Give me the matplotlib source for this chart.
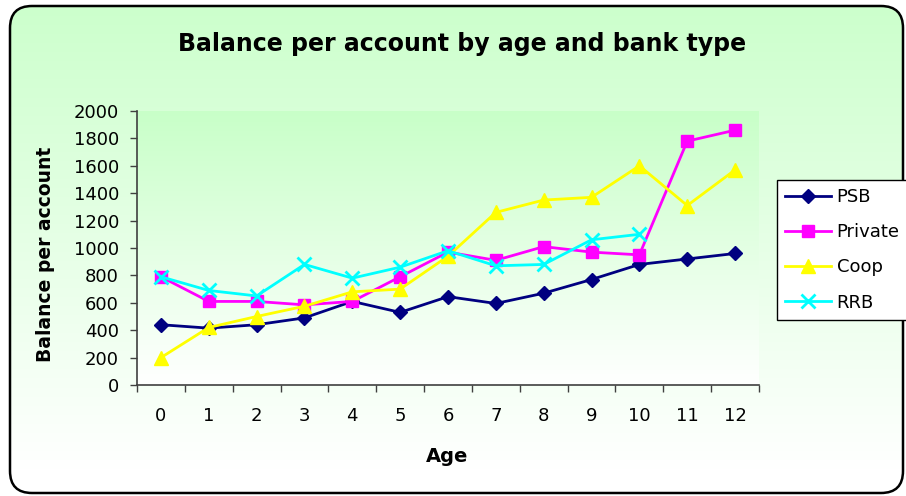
import numpy as np
import matplotlib
matplotlib.use("Agg")
import matplotlib.pyplot as plt
from matplotlib.patches import FancyBboxPatch

plt.rcParams['font.family'] = ['DejaVu Sans']

ages = list(range(13))
psb = [440, 415, 440, 490, 610, 530, 645, 595, 670, 770, 880, 920, 960]
private = [790, 610, 610, 585, 610, 790, 970, 910, 1010, 970, 950, 1780, 1860]
coop = [200, 420, 500, 575, 680, 700, 940, 1260, 1350, 1370, 1600, 1310, 1570]
rrb = [790, 690, 650, 880, 780, 860, 980, 870, 880, 1060, 1100]

W, H = 906, 496
fig = plt.figure(figsize=(W / 100, H / 100), dpi=100)
fig.patch.set_facecolor('white')

# chart background: rounded box with a green-to-white fade
bg = fig.add_axes([0, 0, 1, 1])
bg.set_xlim(0, W)
bg.set_ylim(H, 0)
bg.axis('off')
grad = np.linspace(0, 1, 256).reshape(-1, 1)
top = np.array([204, 255, 204]) / 255
img = top + (1 - top) * grad[..., None]
img = np.repeat(img, 2, axis=1)
box = FancyBboxPatch((10, 6), 893, 487, boxstyle="round,pad=0,rounding_size=22",
                     facecolor='none', edgecolor='black', linewidth=1.8, zorder=2)
bg.add_patch(box)
im = bg.imshow(img, extent=[10, 903, 470, 6], aspect='auto', zorder=0)
im.set_clip_path(box)

ax = fig.add_axes([137 / W, 1 - 385 / H, 622 / W, 274 / H])
ax.patch.set_alpha(0)
pgrad = np.array([200, 255, 200]) / 255
pimg = pgrad + (1 - pgrad) * grad[..., None]
pimg = np.repeat(pimg, 2, axis=1)
ax.imshow(pimg, extent=[0, 1, 0, 1], transform=ax.transAxes, aspect='auto', zorder=0)

ax.plot(ages, psb, color='#000080', marker='D', markersize=7, linewidth=2, label='PSB', zorder=3)
ax.plot(ages, private, color='#FF00FF', marker='s', markersize=8, linewidth=2, label='Private', zorder=3)
ax.plot(ages, coop, color='#FFFF00', marker='^', markersize=10, linewidth=2, label='Coop', zorder=3)
ax.plot(ages[:len(rrb)], rrb, color='#00FFFF', marker='x', markersize=10, markeredgewidth=2,
        linewidth=2, label='RRB', zorder=3)

ax.set_xlim(-0.5, 12.5)
ax.set_ylim(0, 2000)
ax.set_yticks(range(0, 2001, 200))
ax.set_xticks(ages)
ax.set_xticks(np.arange(-0.5, 13, 1), minor=True)
ax.tick_params(axis='x', which='major', length=0, pad=16, labelsize=13)
ax.tick_params(axis='x', which='minor', length=5, width=1, color='#404040')
ax.tick_params(axis='y', length=5, width=1, color='#404040', pad=8, labelsize=13)
for s in ['top', 'right']:
    ax.spines[s].set_visible(False)
for s in ['left', 'bottom']:
    ax.spines[s].set_color('#404040')
    ax.spines[s].set_linewidth(1.2)

fig.text(462 / W, 1 - 44 / H, 'Balance per account by age and bank type',
         ha='center', va='center', fontsize=17, fontweight='bold')
fig.text(447 / W, 1 - 457 / H, 'Age', ha='center', va='center', fontsize=14, fontweight='bold')
fig.text(46 / W, 1 - 254 / H, 'Balance per account', ha='center', va='center',
         rotation=90, fontsize=13.5, fontweight='bold')

leg = fig.legend(loc='upper left', bbox_to_anchor=(777 / W, 1 - 180 / H), fontsize=13,
                 frameon=True, fancybox=False, edgecolor='black', framealpha=1,
                 borderaxespad=0, handlelength=2.55, handletextpad=0.3,
                 labelspacing=0.95, borderpad=0.45)
leg.get_frame().set_linewidth(1)

fig.savefig('out.png', dpi=100)
